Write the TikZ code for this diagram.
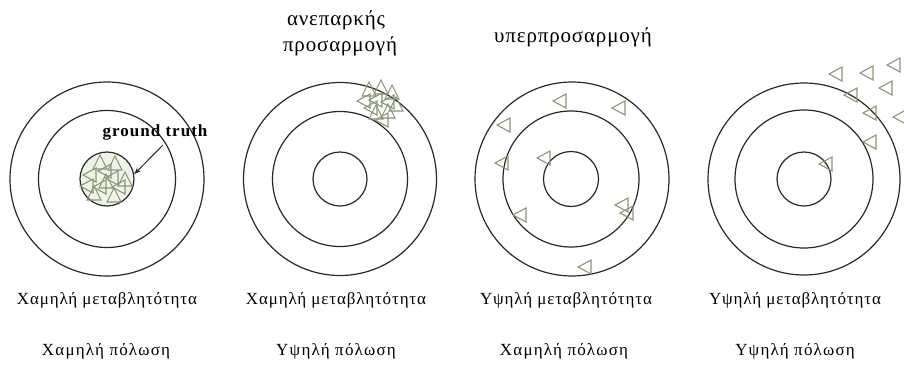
\documentclass[tikz,border=0pt]{standalone}
\usepackage{fontspec}
\setmainfont{Liberation Serif}
\newfontfamily\labfont[LetterSpace=5]{Liberation Serif}
\newfontfamily\labfontb[LetterSpace=7]{Liberation Serif}
\newfontfamily\ttlfont[LetterSpace=4]{Liberation Serif}
\newfontfamily\gtfont[LetterSpace=6]{Liberation Serif}
\usetikzlibrary{arrows.meta}
\definecolor{tricol}{RGB}{138,150,118}
\definecolor{ringcol}{RGB}{40,40,40}
\definecolor{tintcol}{RGB}{240,244,232}
\tikzset{
  ring/.style={draw=ringcol, line width=1.2pt},
  tri/.style={draw=tricol, line width=1.1pt},
  trileft/.pic={\draw[tri] (-7,0) -- (6,-7) -- (6,7) -- cycle;},
  triup/.pic={\draw[tri] (0,-8) -- (7,6) -- (-7,6) -- cycle;},
  lab/.style={font=\labfont\fontsize{17}{20}\selectfont, inner sep=0pt},
  labb/.style={font=\labfontb\fontsize{17}{20}\selectfont, inner sep=0pt},
  ttl/.style={font=\ttlfont\fontsize{21}{24}\selectfont, inner sep=0pt, align=center},
  gt/.style={font=\gtfont\bfseries\fontsize{17}{20}\selectfont, inner sep=0pt}
}
\begin{document}
\begin{tikzpicture}[x=1pt,y=-1pt]
\useasboundingbox (0,0) rectangle (904,367);
% target 1
\node[ring, circle, minimum size=194pt, inner sep=0pt] (o1) at (107,179) {};
\node[ring, circle, minimum size=137pt, inner sep=0pt] (m1) at (107,179) {};
\node[ring, circle, minimum size=54pt, inner sep=0pt, fill=tintcol] (c1) at (107,179) {};
\foreach \p in {(100,163),(115,164),(125,180),(94,194),(114,196),(106,182)} \pic at \p {triup};
\foreach \p in {(90,175),(105,171),(119,187),(100,187),(87,186),(112,178)} \pic at \p {trileft};
\node[gt] (gtl) at (155,132) {ground truth};
\coordinate (gts) at (163,145);
\draw[ringcol, line width=1pt, -{Stealth[length=7pt,width=5pt]}] (gts) -- (c1.10);
% target 2
\node[ring, circle, minimum size=193pt, inner sep=0pt] (o2) at (340,179) {};
\node[ring, circle, minimum size=135pt, inner sep=0pt] (m2) at (340,179) {};
\node[ring, circle, minimum size=54pt, inner sep=0pt] (c2) at (340,179) {};
\foreach \p in {(369,90),(381,88),(392,93),(376,113),(388,112),(396,105)} \pic at \p {triup};
\foreach \p in {(364,101),(376,100),(388,102),(371,108),(382,120)} \pic at \p {trileft};
\node[ttl] (t2a) at (336,20) {ανεπαρκής};
\node[ttl] (t2b) at (340,46) {προσαρμογή};
% target 3
\node[ring, circle, minimum size=194pt, inner sep=0pt] (o3) at (572,179) {};
\node[ring, circle, minimum size=136pt, inner sep=0pt] (m3) at (571,179) {};
\node[ring, circle, minimum size=55pt, inner sep=0pt] (c3) at (571,179) {};
\foreach \p in {(560,101),(619,108),(504,125),(502,163),(544,158),(520,215),(622,205),(627,213),(585,267)} \pic at \p {trileft};
\node[ttl] (t3) at (573,37) {υπερπροσαρμογή};
% target 4
\node[ring, circle, minimum size=192pt, inner sep=0pt] (o4) at (804,179) {};
\node[ring, circle, minimum size=138pt, inner sep=0pt] (m4) at (804,179) {};
\node[ring, circle, minimum size=54pt, inner sep=0pt] (c4) at (804,179) {};
\foreach \p in {(836,74),(867,73),(894,65),(851,95),(886,88),(870,113),(900,117),(870,142),(826,164)} \pic at \p {trileft};
% labels
\node[lab] (v1) at (107,300) {Χαμηλή μεταβλητότητα};
\node[lab] (v2) at (336,300) {Χαμηλή μεταβλητότητα};
\node[lab] (v3) at (566,300) {Υψηλή μεταβλητότητα};
\node[lab] (v4) at (795,300) {Υψηλή μεταβλητότητα};
\node[labb] (b1) at (106,351) {Χαμηλή πόλωση};
\node[labb] (b2) at (336,351) {Υψηλή πόλωση};
\node[labb] (b3) at (564,351) {Χαμηλή πόλωση};
\node[labb] (b4) at (795,351) {Υψηλή πόλωση};
\end{tikzpicture}
\end{document}
